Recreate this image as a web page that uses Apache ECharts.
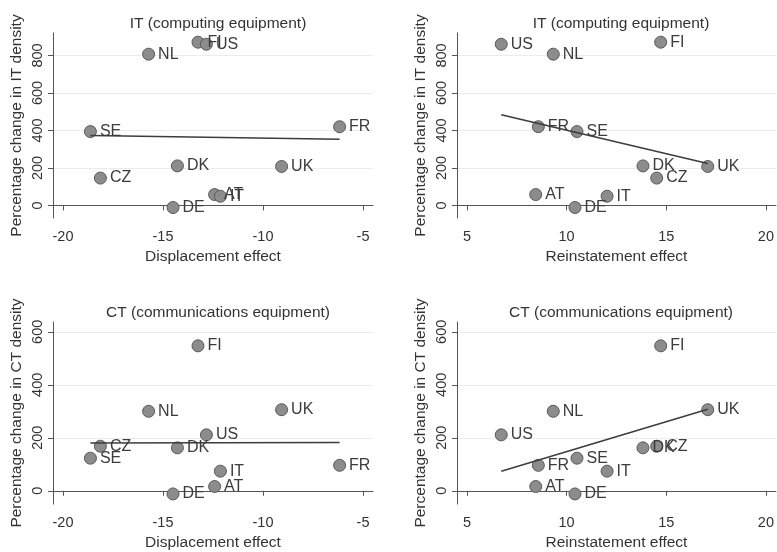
<!DOCTYPE html>
<html>
<head>
<meta charset="utf-8">
<script src="https://cdn.jsdelivr.net/npm/echarts@6.0.0/dist/echarts.min.js"></script>
<style>
  html, body { margin: 0; padding: 0; background: #fff; }
  #main { width: 777px; height: 552px; }
</style>
</head>
<body>
<div id="main"></div>
<script>
// country codes, same order in every array
var countries = ['SE', 'CZ', 'NL', 'FI', 'US', 'DK', 'DE', 'AT', 'IT', 'UK', 'FR'];
// x values (same for IT and CT panels)
var displacement = [-18.63, -18.13, -15.72, -13.25, -12.83, -14.28, -14.5, -12.42, -12.13, -9.07, -6.17];
var reinstatement = [10.52, 14.52, 9.33, 14.72, 6.72, 13.83, 10.42, 8.45, 12.03, 17.08, 8.58];
// y values
var itDensity = [394, 146, 807, 871, 860, 211, -11, 58, 49, 208, 420];
var ctDensity = [123, 168, 300, 547, 211, 162, -12, 16, 74, 306, 96];

var dispTicks = [-20, -15, -10, -5];
var reinTicks = [5, 10, 15, 20];
var itTicks = [0, 200, 400, 600, 800];
var ctTicks = [0, 200, 400, 600];

var font = 'Liberation Sans, Arial, sans-serif';
var textColor = '#333';

function points(xs, ys) {
    return countries.map(function (c, i) {
        return { value: [xs[i], ys[i]], name: c };
    });
}

// OLS fit line between smallest and largest x
function fitLine(xs, ys) {
    var n = xs.length, mx = 0, my = 0;
    for (var i = 0; i < n; i++) { mx += xs[i]; my += ys[i]; }
    mx /= n; my /= n;
    var sxy = 0, sxx = 0;
    for (var j = 0; j < n; j++) {
        sxy += (xs[j] - mx) * (ys[j] - my);
        sxx += (xs[j] - mx) * (xs[j] - mx);
    }
    var b = sxy / sxx, a = my - b * mx;
    var x0 = Math.min.apply(null, xs), x1 = Math.max.apply(null, xs);
    return [[x0, a + b * x0], [x1, a + b * x1]];
}

function xAxis(idx, name, min, max, ticks) {
    return {
        type: 'value', gridIndex: idx, name: name, nameLocation: 'middle', nameGap: 31,
        nameTextStyle: { fontFamily: font, fontSize: 15.5, color: textColor },
        min: min, max: max,
        axisLine: { show: true, lineStyle: { color: '#555', width: 1 } },
        axisTick: { show: true, length: 5, customValues: ticks, lineStyle: { color: '#555' } },
        axisLabel: { customValues: ticks, margin: 11, fontFamily: font, fontSize: 14.5, color: textColor },
        splitLine: { show: false }
    };
}

function yAxis(idx, name, min, max, ticks) {
    return {
        type: 'value', gridIndex: idx, name: name, nameLocation: 'middle', nameGap: 28,
        nameTextStyle: { fontFamily: font, fontSize: 15.5, color: textColor },
        min: min, max: max,
        axisLine: { show: true, lineStyle: { color: '#555', width: 1 } },
        axisTick: { show: true, length: 5, customValues: ticks, lineStyle: { color: '#555' } },
        axisLabel: { customValues: ticks, rotate: 90, margin: 8, fontFamily: font, fontSize: 14.5, color: textColor },
        splitLine: { show: true, lineStyle: { color: '#ececec', width: 1 } }
    };
}

function scatter(idx, xs, ys) {
    return {
        type: 'scatter', xAxisIndex: idx, yAxisIndex: idx, symbolSize: 12,
        data: points(xs, ys),
        itemStyle: { color: '#8c8c8c', borderColor: '#5a5a5a', borderWidth: 1, opacity: 1 },
        label: {
            show: true, position: 'right', distance: 3,
            formatter: function (p) { return p.name; },
            fontFamily: font, fontSize: 16, color: '#3c3c3c'
        },
        z: 3
    };
}

function fit(idx, xs, ys) {
    return {
        type: 'line', xAxisIndex: idx, yAxisIndex: idx, data: fitLine(xs, ys),
        symbol: 'none', lineStyle: { color: '#3c3c3c', width: 1.5 }, z: 4, silent: true
    };
}

var chart = echarts.init(document.getElementById('main'), null, { renderer: 'canvas' });

var titleStyle = { fontFamily: font, fontSize: 15.5, fontWeight: 'normal', color: textColor };

var option = {
    backgroundColor: '#fff',
    animation: false,
    title: [
        { text: 'IT (computing equipment)', left: 213, top: 11, textAlign: 'center', textStyle: titleStyle },
        { text: 'IT (computing equipment)', left: 616, top: 11, textAlign: 'center', textStyle: titleStyle },
        { text: 'CT (communications equipment)', left: 213, top: 300, textAlign: 'center', textStyle: titleStyle },
        { text: 'CT (communications equipment)', left: 616, top: 300, textAlign: 'center', textStyle: titleStyle }
    ],
    grid: [
        { left: 53, top: 33, width: 320, height: 185 },
        { left: 457, top: 33, width: 319, height: 185 },
        { left: 53, top: 322, width: 320, height: 185.5 },
        { left: 457, top: 322, width: 319, height: 185.5 }
    ],
    xAxis: [
        xAxis(0, 'Displacement effect', -20.5, -4.5, dispTicks),
        xAxis(1, 'Reinstatement effect', 4.5, 20.5, reinTicks),
        xAxis(2, 'Displacement effect', -20.5, -4.5, dispTicks),
        xAxis(3, 'Reinstatement effect', 4.5, 20.5, reinTicks)
    ],
    yAxis: [
        yAxis(0, 'Percentage change in IT density', -67, 920, itTicks),
        yAxis(1, 'Percentage change in IT density', -67, 920, itTicks),
        yAxis(2, 'Percentage change in CT density', -50, 637, ctTicks),
        yAxis(3, 'Percentage change in CT density', -50, 637, ctTicks)
    ],
    series: [
        scatter(0, displacement, itDensity),
        fit(0, displacement, itDensity),
        scatter(1, reinstatement, itDensity),
        fit(1, reinstatement, itDensity),
        scatter(2, displacement, ctDensity),
        fit(2, displacement, ctDensity),
        scatter(3, reinstatement, ctDensity),
        fit(3, reinstatement, ctDensity)
    ]
};

chart.setOption(option);
</script>
</body>
</html>
